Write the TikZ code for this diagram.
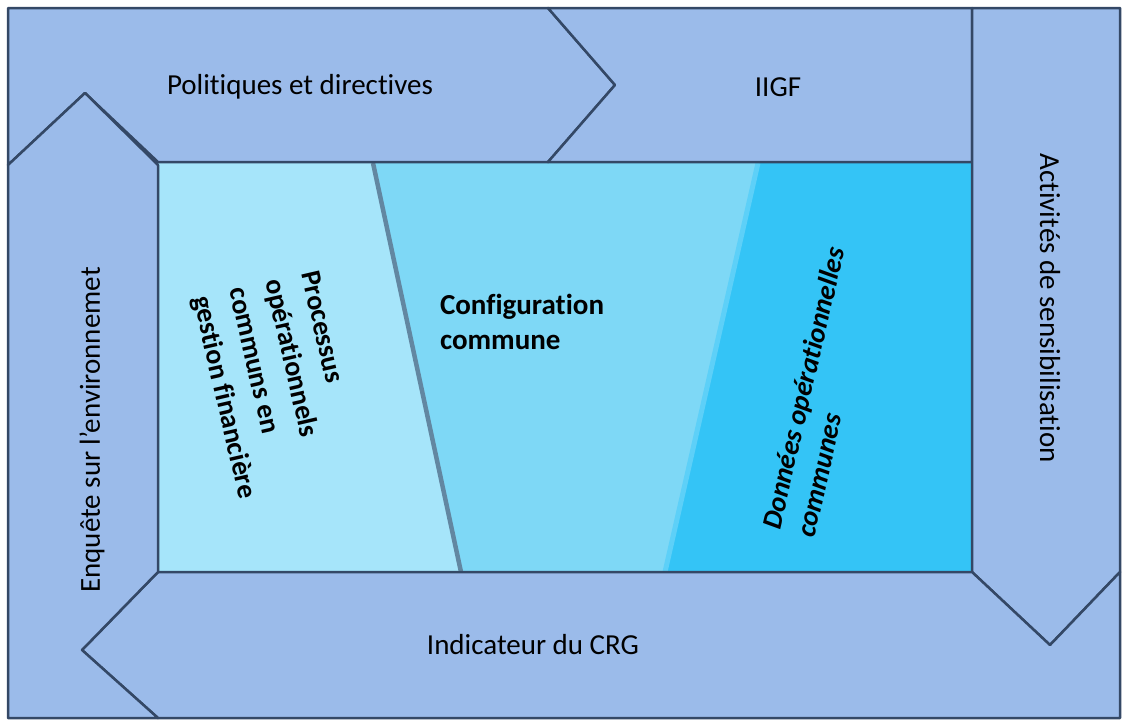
\documentclass[tikz,border=0pt]{standalone}
\usepackage{fontspec}
\setmainfont{Carlito}[Ligatures=NoCommon]

\definecolor{bandfill}{RGB}{155,187,234}
\definecolor{bandline}{RGB}{52,72,102}
\definecolor{paleblue}{RGB}{166,229,250}
\definecolor{midblue}{RGB}{126,216,246}
\definecolor{deepblue}{RGB}{52,196,246}

\begin{document}
\begin{tikzpicture}[x=1pt, y=-1pt,
    band/.style={fill=bandfill, draw=bandline, line width=2.5pt, line join=round},
    every node/.style={font=\fontsize{29}{35}\selectfont, inner sep=0pt}]
  \useasboundingbox (0,0) rectangle (1122,724);
  % inner panel
  \fill[paleblue] (158,163) -- (373,163) -- (461,572) -- (158,572) -- cycle;
  \fill[midblue] (373,163) -- (758,163) -- (665,572) -- (461,572) -- cycle;
  \fill[deepblue] (758,163) -- (972,163) -- (972,572) -- (665,572) -- cycle;
  \draw[line width=4.5pt, color=bandline!60!paleblue] (373,163) -- (461,572);
  \draw[line width=5pt, color=deepblue!80!white] (758,163) -- (665,572);
  % outer arrows
  \draw[band] (8,8) -- (548,8) -- (615,85) -- (548,162) -- (158,162) -- (85,93) -- (8,165) -- cycle;
  \draw[band] (548,8) -- (972,8) -- (972,162) -- (548,162) -- (615,85) -- cycle;
  \draw[band] (972,8) -- (1120,8) -- (1120,572) -- (1050,645) -- (972,572) -- cycle;
  \draw[band] (158,572) -- (972,572) -- (1050,645) -- (1120,572) -- (1120,718) -- (158,718) -- (82,650) -- cycle;
  \draw[band] (8,165) -- (85,93) -- (158,165) -- (158,572) -- (82,650) -- (158,718) -- (8,718) -- cycle;
  % labels
  \node (pol) at (300,87) {Politiques et directives};
  \node (iigf) at (778,87) {IIGF};
  \node (act) [rotate=-90] at (1050,308) {Activités de sensibilisation};
  \node (enq) [rotate=90] at (92,430) {Enquête sur l’environnemet};
  \node (ind) at (533,645) {Indicateur du CRG};
  \node (conf) [align=left, font=\fontsize{29}{35}\selectfont\bfseries] at (522,322) {Configuration\\commune};
  \node (proc) [align=left, rotate=-77, font=\fontsize{28}{37}\selectfont\bfseries] at (277,385) {Processus\\opérationnels\\communs en\\gestion financière};
  \node (don) [align=left, rotate=77, font=\fontsize{28}{35}\selectfont\bfseries\itshape] at (820,392) {Données opérationnelles\\communes};
\end{tikzpicture}
\end{document}
